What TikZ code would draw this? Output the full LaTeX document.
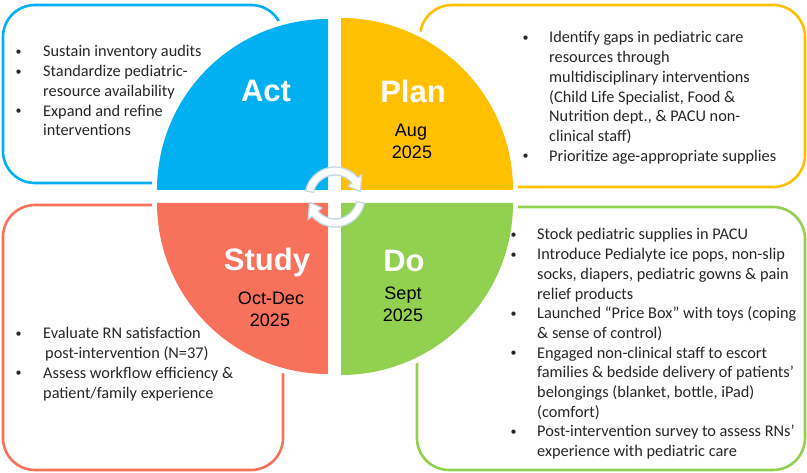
\documentclass[tikz,border=0pt]{standalone}
\usepackage{fontspec}
\setmainfont{Carlito}
\newfontfamily\arialf{Liberation Sans}
\usepackage{array}
\definecolor{actblue}{HTML}{00B0F0}
\definecolor{planyel}{HTML}{FFC000}
\definecolor{studyred}{HTML}{F8715B}
\definecolor{dogreen}{HTML}{92D050}
\definecolor{arrline}{HTML}{C4DAE4}
\definecolor{txt}{HTML}{262626}
\newcommand{\smallbul}{\hspace*{8.3pt}\makebox[0pt]{\fontsize{12}{12}\selectfont\raisebox{1.5pt}{•}}}
\newcommand{\bitem}[1]{\smallbul & #1\\}
\newcommand{\bcont}[1]{& #1\\}
\begin{document}
\begin{tikzpicture}[x=1pt,y=1pt,
  boxline/.style={line width=2.6pt, rounded corners=32pt},
  halo/.style={draw=white, line width=10pt},
  ttl/.style={anchor=base, inner sep=0pt, text=white, font=\arialf\bfseries\fontsize{31}{31}\selectfont},
  dt/.style={anchor=base, inner sep=0pt, text=black, font=\arialf\fontsize{18}{18}\selectfont},
  bul/.style={anchor=base west, inner sep=0pt, text=txt, font=\fontsize{16.3}{19.7}\selectfont},
  cyc/.style={fill=white, draw=arrline, line width=1.3pt, line join=round}]
\useasboundingbox (0,0) rectangle (807,472);
% boxes
\draw[boxline, actblue] (3,289) rectangle (283,467);
\draw[boxline, planyel] (420,285) rectangle (805,467);
\draw[boxline, studyred] (3,2) rectangle (283,267);
\draw[boxline, dogreen] (417,2) rectangle (805,265);
% halos
\path[halo] (328,282) -- (157,282) arc[start angle=180,end angle=90,radius=171pt] -- cycle;
\path[halo] (341,282) -- (341,454) arc[start angle=90,end angle=0,radius=172pt] -- cycle;
\path[halo] (328,269) -- (157,269) arc[start angle=180,end angle=270,radius=171pt] -- cycle;
\path[halo] (341,269) -- (341,97) arc[start angle=270,end angle=360,radius=172pt] -- cycle;
% quadrants
\fill[actblue] (328,282) -- (157,282) arc[start angle=180,end angle=90,radius=171pt] -- cycle;
\fill[planyel] (341,282) -- (341,454) arc[start angle=90,end angle=0,radius=172pt] -- cycle;
\fill[studyred] (328,269) -- (157,269) arc[start angle=180,end angle=270,radius=171pt] -- cycle;
\fill[dogreen] (341,269) -- (341,97) arc[start angle=270,end angle=360,radius=172pt] -- cycle;
% cycle arrows
\coordinate (C) at (335,275);
\draw[cyc] ([shift={(C)}]168:30pt) arc[start angle=168,end angle=40,radius=30pt]
  -- ([shift={(C)}]40:35pt) -- ([shift={(C)}]12:26pt) -- ([shift={(C)}]40:17pt)
  -- ([shift={(C)}]40:22pt) arc[start angle=40,end angle=168,radius=22pt] -- cycle;
\draw[cyc] ([shift={(C)}]-12:30pt) arc[start angle=-12,end angle=-140,radius=30pt]
  -- ([shift={(C)}]220:35pt) -- ([shift={(C)}]192:26pt) -- ([shift={(C)}]220:17pt)
  -- ([shift={(C)}]220:22pt) arc[start angle=-140,end angle=-12,radius=22pt] -- cycle;
% titles
\node[ttl] (act) at (266,370) {Act};
\node[ttl] (plan) at (413,369) {Plan};
\node[dt] (plan1) at (411,335) {Aug};
\node[dt] (plan2) at (412,313) {2025};
\node[ttl] (study) at (267,201) {Study};
\node[dt] (study1) at (271,167) {Oct-Dec};
\node[dt] (study2) at (270,145) {2025};
\node[ttl] (do) at (404,200) {Do};
\node[dt] (do1) at (403,172) {Sept};
\node[dt] (do2) at (403,150) {2025};
% texts
\node[bul] (acttext) at (10,415) {\begin{tabular}[t]{@{}p{33pt}@{}l@{}}
\bitem{Sustain inventory audits}
\bitem{Standardize pediatric-}
\bcont{resource availability}
\bitem{Expand and refine}
\bcont{interventions}
\end{tabular}};
\node[bul] (plantext) at (517,429) {\begin{tabular}[t]{@{}p{32pt}@{}l@{}}
\bitem{Identify gaps in pediatric care}
\bcont{resources through}
\bcont{multidisciplinary interventions}
\bcont{(Child Life Specialist, Food \&}
\bcont{Nutrition dept., \& PACU non-}
\bcont{clinical staff)}
\bitem{Prioritize age-appropriate supplies}
\end{tabular}};
\node[bul] (dotext) at (505,232) {\begin{tabular}[t]{@{}p{32pt}@{}l@{}}
\bitem{Stock pediatric supplies in PACU}
\bitem{Introduce Pedialyte ice pops, non-slip}
\bcont{socks, diapers, pediatric gowns \& pain}
\bcont{relief products}
\bitem{Launched “Price Box” with toys (coping}
\bcont{\& sense of control)}
\bitem{Engaged non-clinical staff to escort}
\bcont{families \& bedside delivery of patients’}
\bcont{belongings (blanket, bottle, iPad)}
\bcont{(comfort)}
\bitem{Post-intervention survey to assess RNs’}
\bcont{experience with pediatric care}
\end{tabular}};
\node[bul] (studytext) at (10,133) {\begin{tabular}[t]{@{}p{33pt}@{}l@{}}
\bitem{Evaluate RN satisfaction}
\bcont{\hspace{2pt}post-intervention (N=37)}
\bitem{Assess workflow efficiency \&}
\bcont{patient/family experience}
\end{tabular}};
\end{tikzpicture}
\end{document}
